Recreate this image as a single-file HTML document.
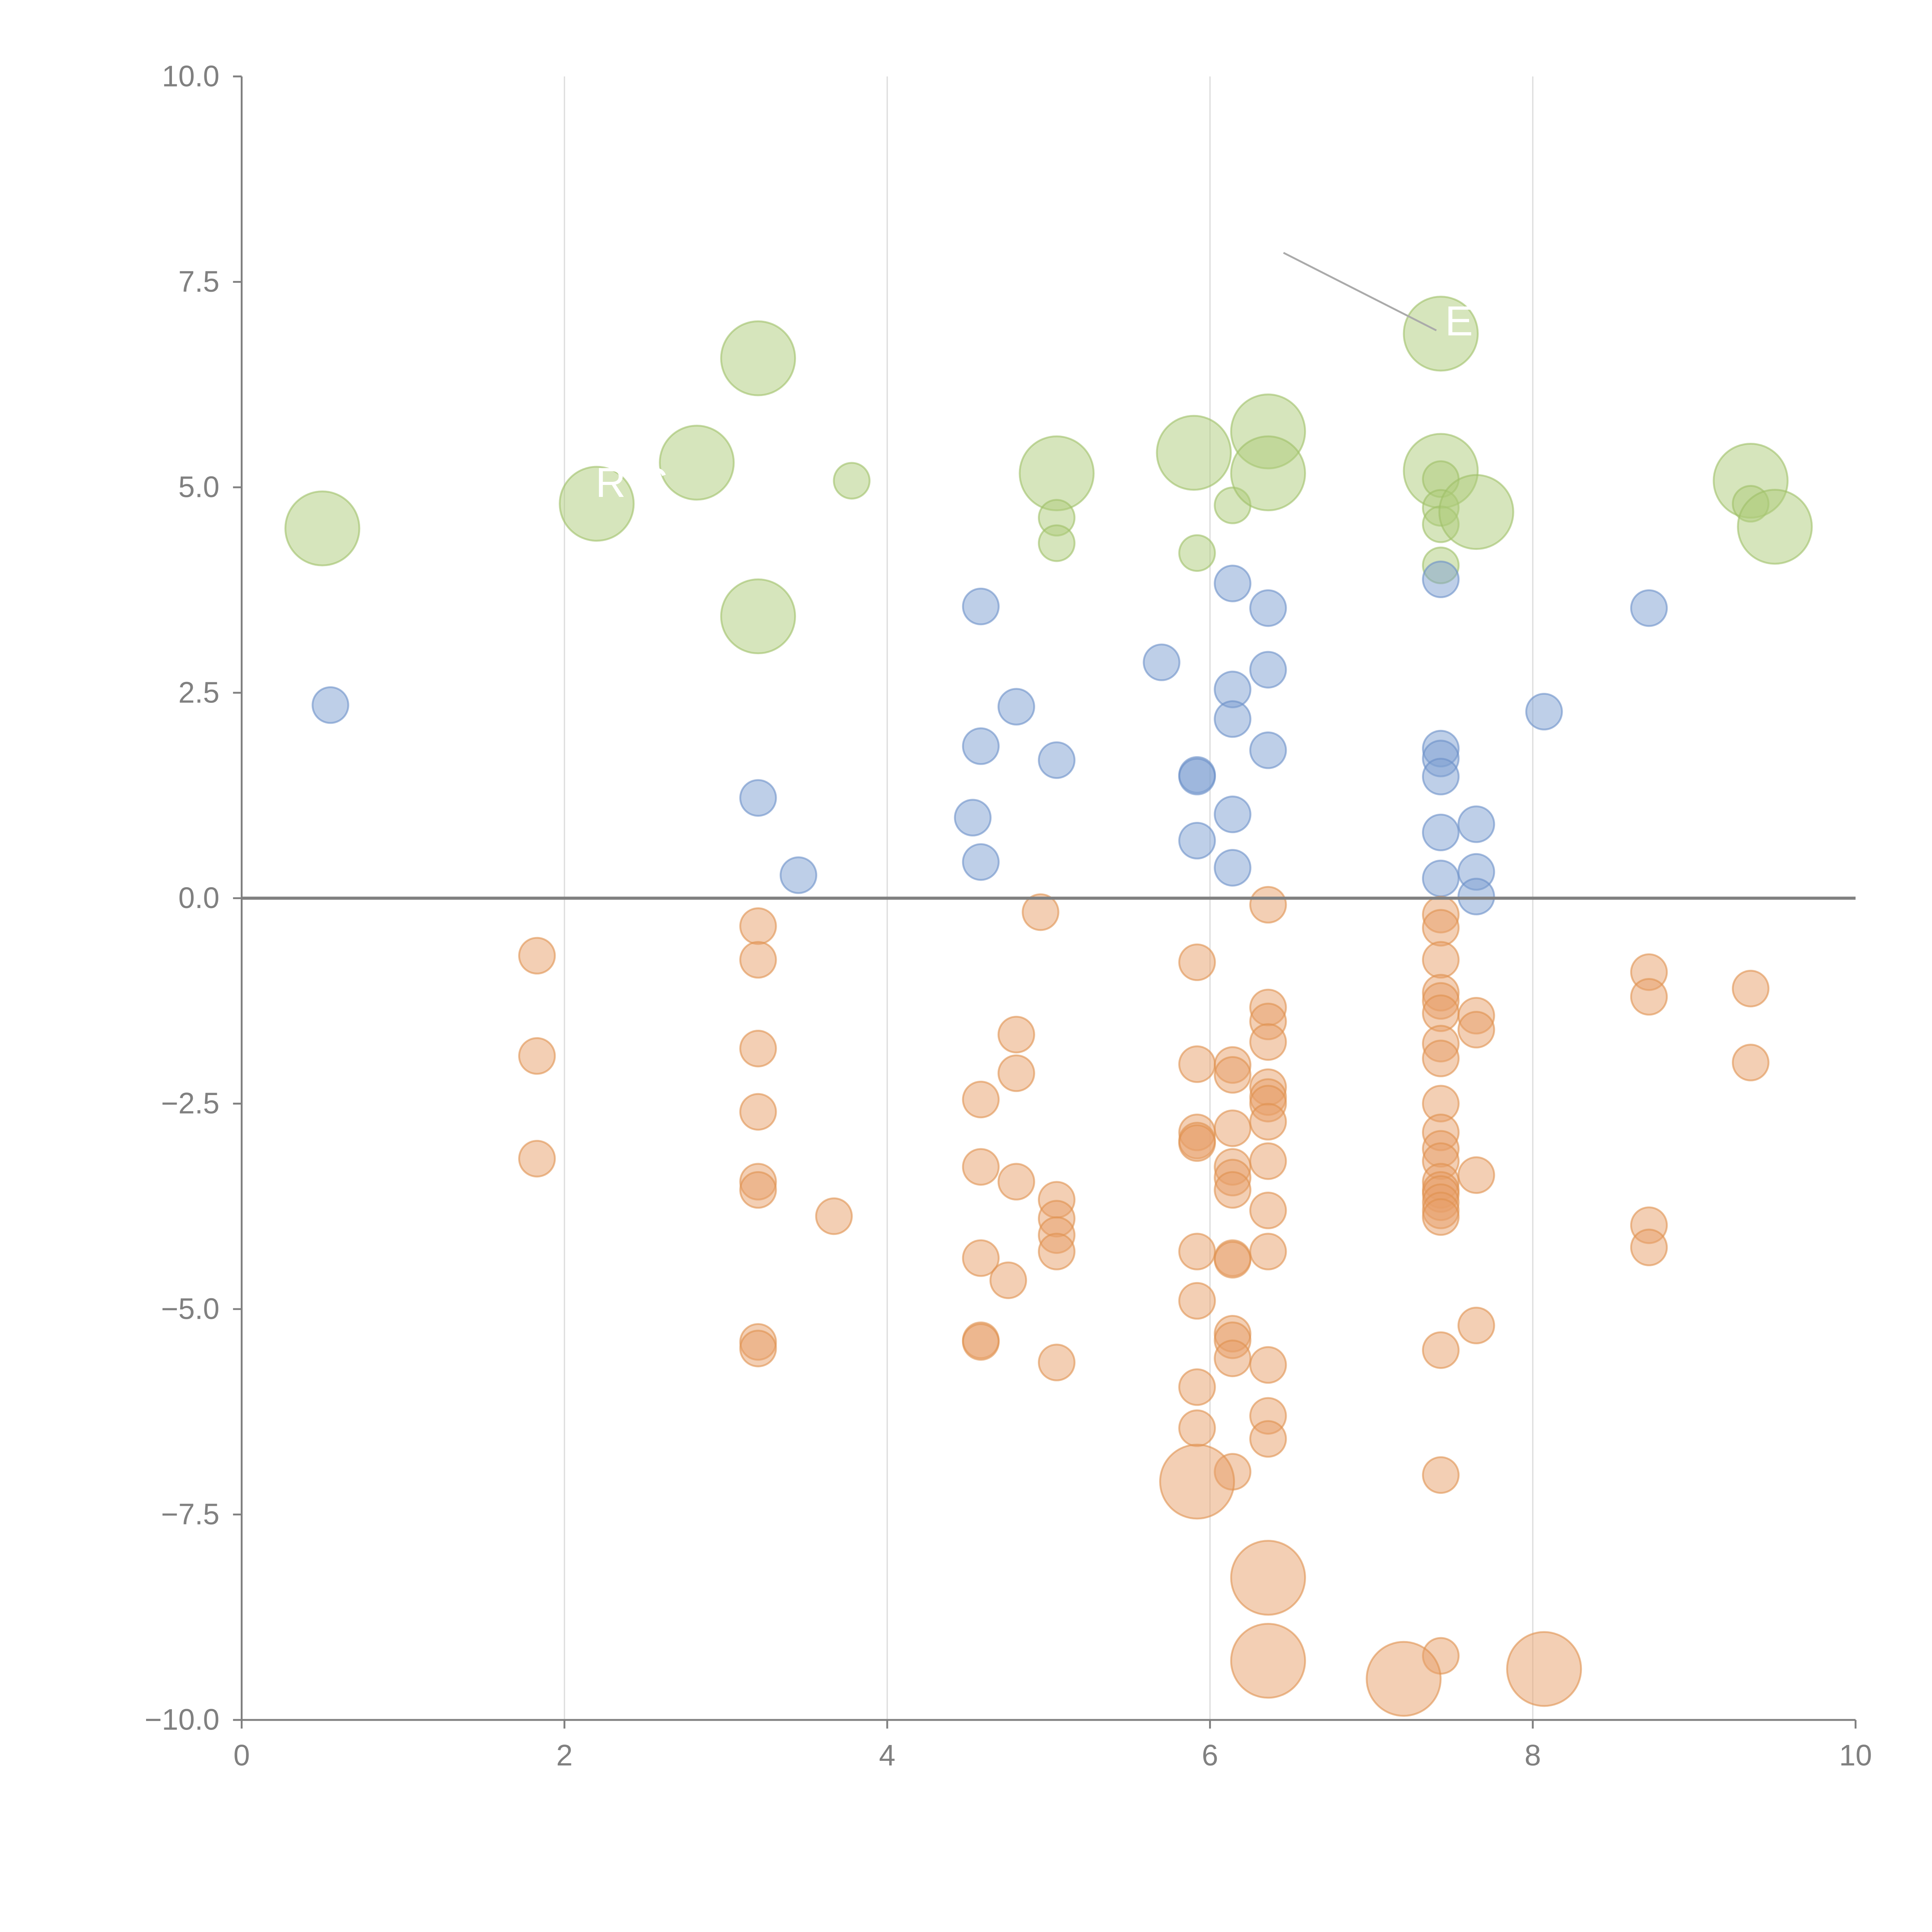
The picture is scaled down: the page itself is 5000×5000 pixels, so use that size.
<!DOCTYPE html>
<html><head><meta charset="utf-8"><style>html,body{margin:0;padding:0;background:#fff}svg{display:block}</style></head>
<body>
<svg width="5000" height="5000" viewBox="0 0 1567 1567" xmlns="http://www.w3.org/2000/svg" font-family="Liberation Sans, sans-serif">
<g id="grid"></g>
<g id="marks"></g>
<g id="axes"></g>
<line x1="1041" y1="205" x2="1165" y2="268" stroke="#aaa" stroke-width="1.5"/>
<text x="1172" y="272" fill="#fff" font-size="34">E</text>
<text x="483" y="403" fill="#fff" font-size="34">R C</text>
</svg>
<script>
const xTicks=[0,2,4,6,8,10];
const yTicks=[10,7.5,5,2.5,0,-2.5,-5,-7.5,-10];
const yTickLabels=["10.0","7.5","5.0","2.5","0.0","\u22122.5","\u22125.0","\u22127.5","\u221210.0"];
const blueX=[0.55,3.2,3.45,4.58,4.58,4.53,4.58,4.8,5.05,5.7,5.92,5.92,5.92,6.14,6.14,6.14,6.14,6.14,6.36,6.36,6.36,7.43,7.43,7.43,7.43,7.43,7.43,7.65,7.65,7.65,8.07,8.72];
const blueY=[2.35,1.22,0.28,3.55,1.85,0.98,0.44,2.33,1.68,2.87,1.5,1.48,0.7,3.83,2.54,2.18,1.02,0.37,3.53,2.78,1.8,3.88,1.82,1.7,1.48,0.8,0.24,0.9,0.32,0.02,2.27,3.53];
const greenX=[0.5,2.2,2.82,3.2,3.2,3.78,5.05,5.05,5.05,5.9,5.92,6.14,6.36,6.36,7.43,7.43,7.43,7.43,7.43,7.43,7.65,9.35,9.35,9.5];
const greenY=[4.5,4.8,5.3,6.57,3.43,5.08,5.17,4.63,4.32,5.42,4.2,4.78,5.68,5.17,6.87,5.2,5.1,4.75,4.55,4.05,4.7,5.08,4.8,4.52];
const greenS=[2,2,2,2,2,1,2,1,1,2,1,1,2,2,2,2,1,1,1,1,2,2,1,2];
const orangeX=[1.83,1.83,1.83,3.2,3.2,3.2,3.2,3.2,3.2,3.2,3.2,3.67,4.58,4.58,4.58,4.58,4.58,4.75,4.8,4.8,4.8,4.95,5.05,5.05,5.05,5.05,5.05,
5.92,5.92,5.92,5.92,5.92,5.92,5.92,5.92,5.92,
6.14,6.14,6.14,6.14,6.14,6.14,6.14,6.14,6.14,6.14,6.14,6.14,
6.36,6.36,6.36,6.36,6.36,6.36,6.36,6.36,6.36,6.36,6.36,6.36,6.36,6.36,
7.43,7.43,7.43,7.43,7.43,7.43,7.43,7.43,7.43,7.43,7.43,7.43,7.43,7.43,7.43,7.43,7.43,7.43,7.43,7.43,7.43,
7.65,7.65,7.65,7.65,8.72,8.72,8.72,8.72,9.35,9.35,
5.92,6.36,6.36,7.2,8.07];
const orangeY=[-0.7,-1.92,-3.17,-0.34,-0.75,-1.83,-2.6,-3.45,-3.55,-5.4,-5.48,-3.87,-2.45,-3.27,-4.38,-5.38,-5.4,-4.65,-1.66,-2.13,-3.45,-0.17,-3.67,-3.9,-4.1,-4.3,-5.65,
-0.78,-2.02,-2.85,-2.95,-2.98,-4.3,-4.9,-5.95,-6.45,
-2.03,-2.15,-2.8,-3.27,-3.4,-3.55,-4.38,-4.4,-5.3,-5.38,-5.6,-6.98,
-0.08,-1.33,-1.5,-1.75,-2.3,-2.42,-2.5,-2.72,-3.2,-3.8,-4.3,-5.68,-6.3,-6.58,
-0.2,-0.36,-0.75,-1.15,-1.25,-1.4,-1.77,-1.95,-2.5,-2.85,-3.05,-3.2,-3.45,-3.55,-3.6,-3.7,-3.8,-3.88,-5.5,-7.02,-9.22,
-1.43,-1.6,-3.37,-5.2,-0.9,-1.2,-3.98,-4.25,-1.1,-2.0,
-7.1,-8.27,-9.28,-9.5,-9.38];
const orangeS=orangeX.map((v,i)=>i>=orangeX.length-5?2:1);

const X0=196,X1=1505,Y0=1395,Y1=62;
function sx(v){return X0+(v-0)/(10-0)*(X1-X0);}
function sy(v){return Y0-(v+10)/20*(Y0-Y1);}
const NS="http://www.w3.org/2000/svg";
function mk(tag,attrs,parent){const e=document.createElementNS(NS,tag);for(const k in attrs)e.setAttribute(k,attrs[k]);parent.appendChild(e);return e;}
const grid=document.getElementById('grid'),marks=document.getElementById('marks'),axes=document.getElementById('axes');
xTicks.forEach(t=>{if(t>0&&t<10){const l=mk('line',{x1:sx(t),x2:sx(t),y1:Y1,y2:Y0,stroke:'#dcdcdc','stroke-width':1},grid);

}});
function drawSeries(xs,ys,ss,fill,stroke,name){
 xs.forEach((x,i)=>{const r=ss[i]===2?30:14.5;
  const c=mk('circle',{cx:sx(x),cy:sy(ys[i]),r:r,fill:fill,'fill-opacity':0.5,stroke:stroke,'stroke-opacity':0.6,'stroke-width':1.5},marks);
  
  });
}
drawSeries(greenX,greenY,greenS,'#aecb7a','#9fbf68','bubble-green');
drawSeries(blueX,blueY,blueX.map(()=>1),'#7d9fd2','#6a8fc8','bubble-blue');
drawSeries(orangeX,orangeY,orangeS,'#e7a06a','#e0914f','bubble-orange');
const zl=mk('line',{x1:X0,x2:X1,y1:sy(0),y2:sy(0),stroke:'#808080','stroke-width':2.5},axes);


const ya=mk('line',{x1:X0,x2:X0,y1:Y1,y2:Y0,stroke:'#808080','stroke-width':1.5},axes);


const xa=mk('line',{x1:X0,x2:X1,y1:Y0,y2:Y0,stroke:'#808080','stroke-width':1.5},axes);


yTicks.forEach((t,i)=>{mk('line',{x1:X0-7,x2:X0,y1:sy(t),y2:sy(t),stroke:'#808080','stroke-width':1.5},axes);
 const tx=mk('text',{x:X0-18,y:sy(t)+8,'text-anchor':'end','font-size':24,fill:'#808080'},axes);tx.textContent=yTickLabels[i];
 
 });
xTicks.forEach(t=>{mk('line',{x1:sx(t),x2:sx(t),y1:Y0,y2:Y0+7,stroke:'#808080','stroke-width':1.5},axes);
 const tx=mk('text',{x:sx(t),y:Y0+37,'text-anchor':'middle','font-size':24,fill:'#808080'},axes);tx.textContent=String(t);
 
 });
</script>
</body></html>
